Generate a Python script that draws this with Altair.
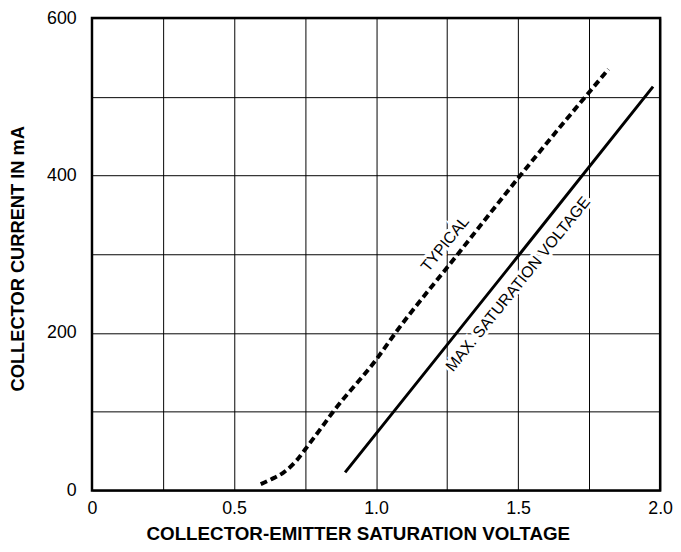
import altair as alt
import pandas as pd

# Typical curve (dashed)
typ_v = [0.594, 0.63, 0.675, 0.72, 0.75, 0.80, 0.849, 1.0, 1.068, 1.283, 1.503, 1.818]
typ_i = [8, 14, 23, 38, 52, 76, 100, 166, 200, 298, 398, 535]
# Max saturation voltage curve (solid)
max_v = [0.891, 1.503, 1.975]
max_i = [23, 299, 513]

labels = ["TYPICAL", "MAX. SATURATION VOLTAGE"]
label_v = [1.243, 1.50]
label_i = [313, 262]

x_grid = [0, 0.25, 0.5, 0.75, 1.0, 1.25, 1.5, 1.75, 2.0]
y_grid = [0, 100, 200, 300, 400, 500, 600]

typ = pd.DataFrame({"v": typ_v, "i": typ_i})
mx = pd.DataFrame({"v": max_v, "i": max_i})
lab = pd.DataFrame({"t": labels, "v": label_v, "i": label_i})

FONT = "Liberation Sans"

xscale = alt.Scale(domain=[0, 2.0], nice=False, zero=False)
yscale = alt.Scale(domain=[0, 600], nice=False)

xaxis = alt.Axis(
    values=x_grid, grid=True, gridColor="black", gridWidth=1, gridOpacity=1,
    ticks=False, tickSize=0, domain=False,
    labelExpr="datum.value == 0 ? '0' : ((datum.value * 4) % 2 == 0 ? format(datum.value, '.1f') : '')",
    labelFont=FONT, labelFontSize=18, labelColor="black", labelPadding=9,
    title="COLLECTOR-EMITTER SATURATION VOLTAGE", titleFont=FONT, titleFontSize=19,
    titleFontWeight="bold", titleColor="black", titleX=269, titleY=44,
    titleBaseline="middle", labelFlush=False,
)
yaxis = alt.Axis(
    values=y_grid, grid=True, gridColor="black", gridWidth=1, gridOpacity=1,
    ticks=False, tickSize=0, domain=False,
    labelExpr="datum.value % 200 == 0 ? format(datum.value, 'd') : ''",
    labelFont=FONT, labelFontSize=18, labelColor="black", labelPadding=16,
    title="COLLECTOR CURRENT IN mA", titleFont=FONT, titleFontSize=18.5,
    titleFontWeight="bold", titleColor="black", titleX=-75, titleY=243,
    titleAngle=270, titleBaseline="middle", titleAlign="center", labelFlush=False,
)

base_typ = alt.Chart(typ).mark_line(
    color="black", strokeWidth=4, strokeDash=[7, 4], interpolate="monotone"
).encode(
    x=alt.X("v:Q", scale=xscale, axis=xaxis),
    y=alt.Y("i:Q", scale=yscale, axis=yaxis),
    order="v:Q",
)

line_max = alt.Chart(mx).mark_line(color="black", strokeWidth=3).encode(
    x=alt.X("v:Q", scale=xscale),
    y=alt.Y("i:Q", scale=yscale),
)

halo = alt.Chart(lab).mark_text(
    font=FONT, fontSize=16, angle=309, color="white", stroke="white", strokeWidth=6,
    align="center", baseline="middle",
).encode(x=alt.X("v:Q", scale=xscale), y=alt.Y("i:Q", scale=yscale), text="t:N")

txt = alt.Chart(lab).mark_text(
    font=FONT, fontSize=16, angle=309, color="black",
    align="center", baseline="middle",
).encode(x=alt.X("v:Q", scale=xscale), y=alt.Y("i:Q", scale=yscale), text="t:N")

chart = alt.layer(halo, base_typ, line_max, txt).properties(
    width=575, height=478,
    autosize=alt.AutoSizeParams(type="none"),
    padding={"left": 85, "top": 7, "right": 13, "bottom": 51},
    background="white",
).configure_view(stroke="black", strokeWidth=2.5)

chart.save("out.html", embed_options={"renderer": "svg", "actions": False})
